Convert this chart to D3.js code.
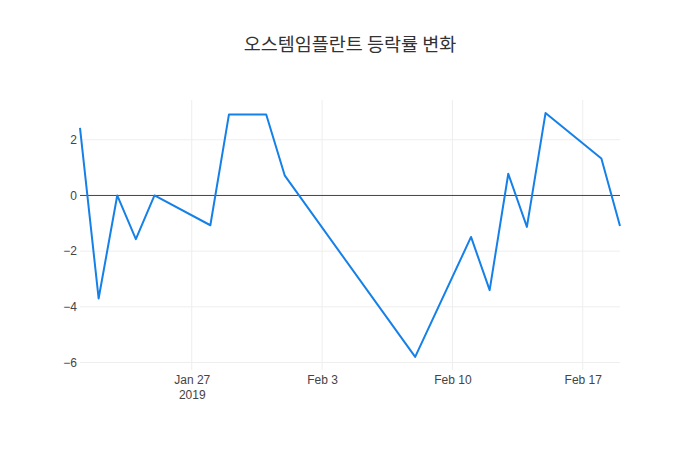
<!DOCTYPE html>
<html>
<head>
<meta charset="utf-8">
<script src="https://cdn.jsdelivr.net/npm/d3@7"></script>
<style>
	body { margin: 0; background: #fff; }
	svg { font-family: "Open Sans", "Noto Sans CJK KR", sans-serif; }
	.tick text { fill: #444; font-size: 12px; }
</style>
</head>
<body>
<div id="chart"></div>
<script>
// trading days and daily change (%)
const dates = [
	"2019-01-21", "2019-01-22", "2019-01-23", "2019-01-24", "2019-01-25",
	"2019-01-28", "2019-01-29", "2019-01-31", "2019-02-01", "2019-02-08",
	"2019-02-11", "2019-02-12", "2019-02-13", "2019-02-14", "2019-02-15",
	"2019-02-18", "2019-02-19"
];
const changes = [
	2.43, -3.70, 0.00, -1.57, 0.00,
	-1.07, 2.91, 2.91, 0.71, -5.80,
	-1.49, -3.40, 0.78, -1.13, 2.96,
	1.33, -1.10
];
const xTicks = ["2019-01-27", "2019-02-03", "2019-02-10", "2019-02-17"];
const yTicks = [-6, -4, -2, 0, 2];
const title = "오스템임플란트 등락률 변화";

const width = 700, height = 450;
const margin = {top: 100, right: 80, bottom: 80, left: 80};
const parse = d3.timeParse("%Y-%m-%d");

const data = dates.map((d, i) => ({date: parse(d), value: changes[i]}));

const ext = d3.extent(changes);
const pad = (ext[1] - ext[0]) * 0.0535;

const x = d3.scaleTime()
	.domain(d3.extent(data, d => d.date))
	.range([margin.left, width - margin.right]);
const y = d3.scaleLinear()
	.domain([ext[0] - pad, ext[1] + pad])
	.range([height - margin.bottom, margin.top]);

const svg = d3.select("#chart").append("svg")
	.attr("width", width)
	.attr("height", height);

// grid
svg.append("g")
	.selectAll("line")
	.data(xTicks.map(parse))
	.join("line")
		.attr("x1", d => x(d)).attr("x2", d => x(d))
		.attr("y1", margin.top).attr("y2", height - margin.bottom)
		.attr("stroke", "#eee");

svg.append("g")
	.selectAll("line")
	.data(yTicks.filter(v => v !== 0))
	.join("line")
		.attr("x1", margin.left).attr("x2", width - margin.right)
		.attr("y1", d => y(d)).attr("y2", d => y(d))
		.attr("stroke", "#eee");

// zero line
svg.append("line")
	.attr("x1", margin.left).attr("x2", width - margin.right)
	.attr("y1", y(0)).attr("y2", y(0))
	.attr("stroke", "#444")
	.attr("stroke-width", 1);

// axes
const fmt = d3.timeFormat("%b %-d");
const xAxis = svg.append("g")
	.attr("transform", `translate(0, ${height - margin.bottom})`)
	.call(d3.axisBottom(x).tickValues(xTicks.map(parse)).tickFormat(fmt).tickSize(0).tickPadding(5));
xAxis.select(".domain").remove();
xAxis.selectAll(".tick").filter((d, i) => i === 0)
	.select("text")
	.append("tspan")
		.attr("x", 0)
		.attr("dy", "1.25em")
		.text("2019");

const yAxis = svg.append("g")
	.attr("transform", `translate(${margin.left}, 0)`)
	.call(d3.axisLeft(y).tickValues(yTicks).tickFormat(d => d < 0 ? "\u2212" + Math.abs(d) : d).tickSize(0).tickPadding(3));
yAxis.select(".domain").remove();

// line
const line = d3.line()
	.x(d => x(d.date))
	.y(d => y(d.value));

svg.append("path")
	.datum(data)
	.attr("fill", "none")
	.attr("stroke", "#1580e8")
	.attr("stroke-width", 2)
	.attr("stroke-linejoin", "round")
	.attr("d", line);

// title
svg.append("text")
	.attr("x", width / 2)
	.attr("y", 51)
	.attr("text-anchor", "middle")
	.attr("fill", "#333")
	.style("font-family", "'Noto Sans CJK KR', sans-serif")
	.style("font-size", "18.5px")
	.text(title);
</script>
</body>
</html>
